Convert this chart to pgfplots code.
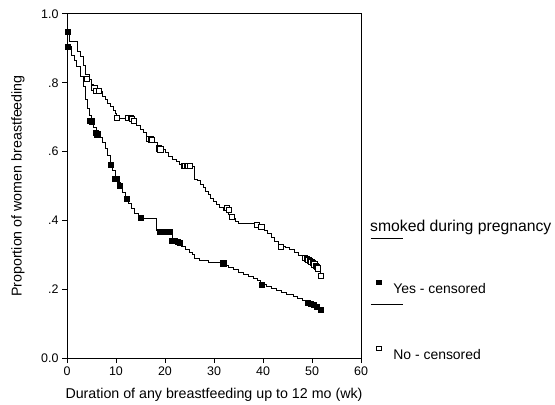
\documentclass[border=0pt]{standalone}
\usepackage{pgfplots}
\pgfplotsset{compat=1.18}
\usepackage{fontspec}
\setmainfont{Liberation Sans}
\newcommand{\lstrut}{\rule[-8bp]{0pt}{28.5bp}}

\begin{document}
\begin{tikzpicture}
\begin{axis}[
  scale only axis, width=294bp, height=344bp,
  xmin=0, xmax=60, ymin=0, ymax=1,
  axis line style={line width=1bp},
  tick style={black, line width=1bp},
  tick align=outside, tick pos=left, major tick length=5bp,
  xtick={0,10,20,30,40,50,60},
  ytick={0,0.2,0.4,0.6,0.8,1},
  yticklabels={0.0,.2,.4,.6,.8,1.0},
  ticklabel style={font=\fontsize{12.5}{14}\selectfont},
  /pgf/number format/assume math mode=true,
  xlabel={Duration of any breastfeeding up to 12 mo (wk)},
  ylabel={Proportion of women breastfeeding},
  every axis x label/.style={at={(axis description cs:0.5,-0.1076)}, anchor=center},
  every axis y label/.style={at={(axis description cs:-0.1667,0.5)}, anchor=center, rotate=90},
  label style={font=\fontsize{14.3}{16}\selectfont},
  clip=false,
  legend cell align=left,
  legend style={draw=none, fill=none, at={(rel axis cs:1.031,0.380)}, anchor=north west,
    row sep=0pt, inner sep=0pt, nodes={inner sep=0pt},
    font=\fontsize{14}{16}\selectfont},
]
% smoked: No
\addplot[const plot, black, line width=1bp, forget plot] coordinates {
(0,0.95) (0.6,0.92) (2.2,0.89) (2.8,0.875) (3.3,0.85) (3.8,0.825) (4.5,0.81)
(5.0,0.795) (5.5,0.785) (6.3,0.775) (7.2,0.76) (7.8,0.75) (8.3,0.74) (8.9,0.73)
(9.4,0.72) (9.9,0.71) (10.2,0.697) (12.6,0.69) (13.5,0.683) (14.2,0.675)
(14.9,0.665) (15.6,0.655) (16.3,0.645) (17.0,0.635) (17.8,0.625) (18.5,0.615)
(19.3,0.605) (20.0,0.597) (20.8,0.587) (21.5,0.578) (22.3,0.57) (23.0,0.562)
(24.0,0.557) (26.0,0.52) (26.7,0.515) (27.3,0.505) (27.8,0.495) (28.3,0.485)
(28.8,0.475) (29.3,0.465) (29.9,0.455) (30.5,0.445) (31.2,0.437) (32.0,0.43)
(33.0,0.417) (33.6,0.405) (34.3,0.397) (35.0,0.392) (38.4,0.387) (39.5,0.38)
(40.3,0.372) (41.0,0.362) (41.7,0.35) (42.4,0.34) (43.2,0.325) (44.5,0.32)
(45.5,0.315) (46.5,0.307) (47.3,0.298) (48.0,0.29) (49.0,0.283) (49.8,0.276)
(50.5,0.268) (51.0,0.258) (51.8,0.238)
};
% smoked: Yes
\addplot[const plot, black, line width=1bp, forget plot] coordinates {
(0,0.95) (0.2,0.905) (1.0,0.88) (1.5,0.865) (2.0,0.848) (2.7,0.818) (3.3,0.79)
(3.7,0.75) (4.1,0.725) (4.5,0.705) (4.9,0.688) (5.5,0.67) (6.0,0.655) (6.6,0.64)
(7.2,0.625) (7.8,0.61) (8.3,0.59) (8.8,0.565) (9.3,0.545) (9.8,0.525) (10.4,0.51)
(10.9,0.497) (11.4,0.48) (12.0,0.465) (12.6,0.45) (13.2,0.435) (13.8,0.42)
(14.5,0.41) (15.6,0.405) (18.3,0.372) (21.6,0.343) (22.5,0.335) (23.3,0.325)
(24.1,0.314) (25.0,0.308) (25.7,0.30) (26.1,0.29) (27.0,0.283) (28.8,0.278)
(32.3,0.27) (33.0,0.263) (34.0,0.257) (35.0,0.25) (36.0,0.244) (37.0,0.238)
(38.0,0.232) (38.8,0.225) (39.5,0.213) (40.8,0.208) (41.8,0.202) (42.8,0.195)
(43.8,0.19) (44.8,0.185) (46.2,0.178) (47.0,0.172) (48.0,0.166) (49.0,0.16)
(50.5,0.152) (51.2,0.147) (52.0,0.14)
};
% censored marks, No
\addplot[only marks, mark=square*, mark size=2.6bp, mark options={draw=black, fill=white, line width=1bp}, forget plot] coordinates {
(4.0,0.81) (5.6,0.785) (6.0,0.775) (6.5,0.775) (10.2,0.697) (12.5,0.697)
(13.0,0.697) (13.3,0.695) (13.6,0.69) (16.8,0.637) (17.1,0.635) (17.3,0.633)
(18.8,0.609) (19.1,0.606) (23.9,0.557) (24.2,0.557) (24.5,0.557) (24.8,0.557) (25.1,0.557)
(32.6,0.437) (33.0,0.43) (33.6,0.41) (38.7,0.387) (39.7,0.38)
(43.7,0.322) (48.6,0.29) (49.0,0.287) (49.3,0.285) (49.6,0.282) (49.9,0.279)
(50.2,0.276) (50.5,0.272) (50.8,0.268) (51.1,0.264) (51.3,0.26) (51.8,0.238)
};
% censored marks, Yes
\addplot[only marks, mark=square*, mark size=2.6bp, mark options={draw=black, fill=black, line width=0.6bp}, forget plot] coordinates {
(0.1,0.948) (0.2,0.905) (4.7,0.69) (5.0,0.688) (5.8,0.655) (6.2,0.65) (9.0,0.561)
(9.8,0.522) (10.1,0.52) (10.8,0.5) (12.2,0.462) (15.0,0.408) (19.0,0.368)
(19.5,0.368) (20.0,0.368) (20.5,0.368) (21.0,0.368) (21.4,0.34) (22.0,0.34)
(22.6,0.338) (23.0,0.335) (31.9,0.275) (39.7,0.212) (49.2,0.16) (49.7,0.157)
(50.3,0.155) (51.0,0.148) (51.8,0.14)
};
% legend
\addlegendimage{legend image code/.code={\draw[black,line width=1bp] (0bp,0bp) -- (32bp,0bp);}}
\addlegendentry{\lstrut}
\addlegendimage{empty legend}
\addlegendentry{\lstrut}
\addlegendimage{legend image code/.code={\draw[draw=none] (0bp,0bp) -- (32bp,0bp); \draw[black,fill=black,line width=0.6bp] plot[mark=square*, mark size=2.2bp] coordinates {(8bp,0bp)};}}
\addlegendentry{\lstrut\hspace*{-10bp}\raisebox{-1.5bp}{Yes - censored}}
\addlegendimage{legend image code/.code={\draw[black,line width=1bp] (0bp,0bp) -- (32bp,0bp);}}
\addlegendentry{\lstrut}
\addlegendimage{empty legend}
\addlegendentry{\lstrut}
\addlegendimage{legend image code/.code={\draw[draw=none] (0bp,0bp) -- (32bp,0bp); \draw[black,fill=white,line width=0.8bp] plot[mark=square*, mark size=2.2bp] coordinates {(8bp,0bp)};}}
\addlegendentry{\lstrut\hspace*{-10bp}\raisebox{-1.5bp}{No - censored}}
\node[anchor=base west, font=\fontsize{15.8}{18}\selectfont, inner sep=0pt] at (rel axis cs:1.0306,0.369) {smoked during pregnancy};
\end{axis}
\pgfresetboundingbox
\useasboundingbox (-67bp,-47bp) rectangle (488bp,358bp);
\end{tikzpicture}
\end{document}
